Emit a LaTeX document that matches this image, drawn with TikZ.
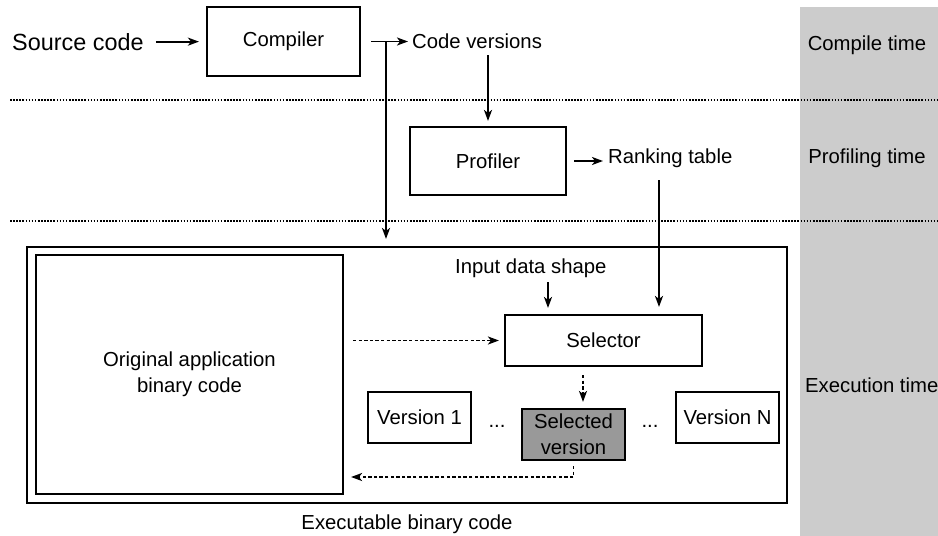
\documentclass[tikz,border=0pt]{standalone}
\usepackage{fontspec}
\setmainfont{Liberation Sans}
\usetikzlibrary{arrows.meta}
\definecolor{band}{RGB}{204,204,204}
\definecolor{selfill}{RGB}{153,153,153}
\tikzset{
  txt/.style={inner sep=0pt, font=\fontsize{20.3}{26}\selectfont},
  bigtxt/.style={inner sep=0pt, font=\fontsize{23.4}{28}\selectfont},
  box/.style={draw, line width=2.1pt, inner sep=0pt, align=center, font=\fontsize{20.3}{26}\selectfont},
  arr/.style={line width=1.9pt, -{Stealth[length=11pt,width=8pt,inset=3pt]}},
  dasharr/.style={arr, dash pattern=on 3.4pt off 2.2pt},
  sep/.style={line width=1.6pt, dash pattern=on 1.6pt off 1.5pt},
}
\begin{document}
\begin{tikzpicture}[x=1pt,y=-1pt]
\useasboundingbox (0,0) rectangle (938,536);
% grey band
\fill[band] (800,7) rectangle (938,536);
% separators
\coordinate (s1a) at (10,100);
\coordinate (s1b) at (938,100);
\coordinate (s2a) at (10,221);
\coordinate (s2b) at (938,221);
\draw[sep] (s1a) -- (s1b);
\draw[sep] (s2a) -- (s2b);
% phase labels
\node[txt, anchor=base] (ct) at (867,50) {Compile time};
\node[txt, anchor=base] (pt) at (867,163) {Profiling time};
\node[txt, anchor=base west] (et) at (805,392) {Execution time};
% compile row
\node[bigtxt, anchor=base west] (src) at (12,50) {Source code};
\node[box, minimum width=153pt, minimum height=69pt] (comp) at (283.5,41.5) {Compiler};
\node[txt, anchor=base west] (cv) at (412,48) {Code versions};
% profiling row
\node[box, minimum width=156pt, minimum height=68pt] (prof) at (488,161) {Profiler};
\node[txt, anchor=base west] (rank) at (608,163) {Ranking table};
% execution
\node[box, minimum width=760pt, minimum height=256pt] (outer) at (407,375) {};
\node[box, minimum width=307pt, minimum height=239pt] (orig) at (189.5,374.5) {Original application\\binary code};
\node[box, minimum width=197pt, minimum height=51pt] (sel) at (603.5,340.5) {Selector};
\node[txt, anchor=base west] (inp) at (455,273) {Input data shape};
\node[box, minimum width=103pt, minimum height=51pt] (v1) at (419.5,417.5) {Version 1};
\node[box, minimum width=103pt, minimum height=51pt, fill=selfill] (selv) at (573.5,434.5) {Selected\\version};
\node[box, minimum width=103pt, minimum height=51pt] (vn) at (727.5,417.5) {Version N};
\node[txt, anchor=base] (d1) at (497,427) {...};
\node[txt, anchor=base] (d2) at (650,427) {...};
\node[txt, anchor=base] (exe) at (407,529) {Executable binary code};
% connectors
\draw[arr, shorten <=12pt, shorten >=7pt] (src.east) -- (src.east -| comp.west);
\draw[arr, shorten <=10pt, shorten >=4pt] (comp.east) -- (comp.east -| cv.west);
\coordinate (j) at (386,41.5);
\draw[arr, shorten >=7pt] (j) -- (j |- outer.north);
\draw[arr, shorten <=7pt, shorten >=5pt] (cv.south -| prof.north) -- (prof.north);
\draw[arr, shorten <=7pt, shorten >=5pt] (prof.east) -- (prof.east -| rank.west);
\coordinate (rk) at (659,180);
\draw[arr, shorten >=7pt] (rk) -- (rk |- sel.north);
\coordinate (ik) at (548,282);
\draw[arr, shorten >=6pt] (ik) -- (ik |- sel.north);
\draw[dasharr, shorten <=9pt, shorten >=5pt] (orig.east |- sel.west) -- (sel.west);
\coordinate (sk) at (583,375);
\draw[dasharr, shorten >=6pt] (sk) -- (sk |- selv.north);
\coordinate (rt) at (574,477);
\draw[dasharr, shorten <=5pt, shorten >=7pt] (selv.south) -- (selv.south |- rt) -- (rt -| orig.east);
\end{tikzpicture}
\end{document}
